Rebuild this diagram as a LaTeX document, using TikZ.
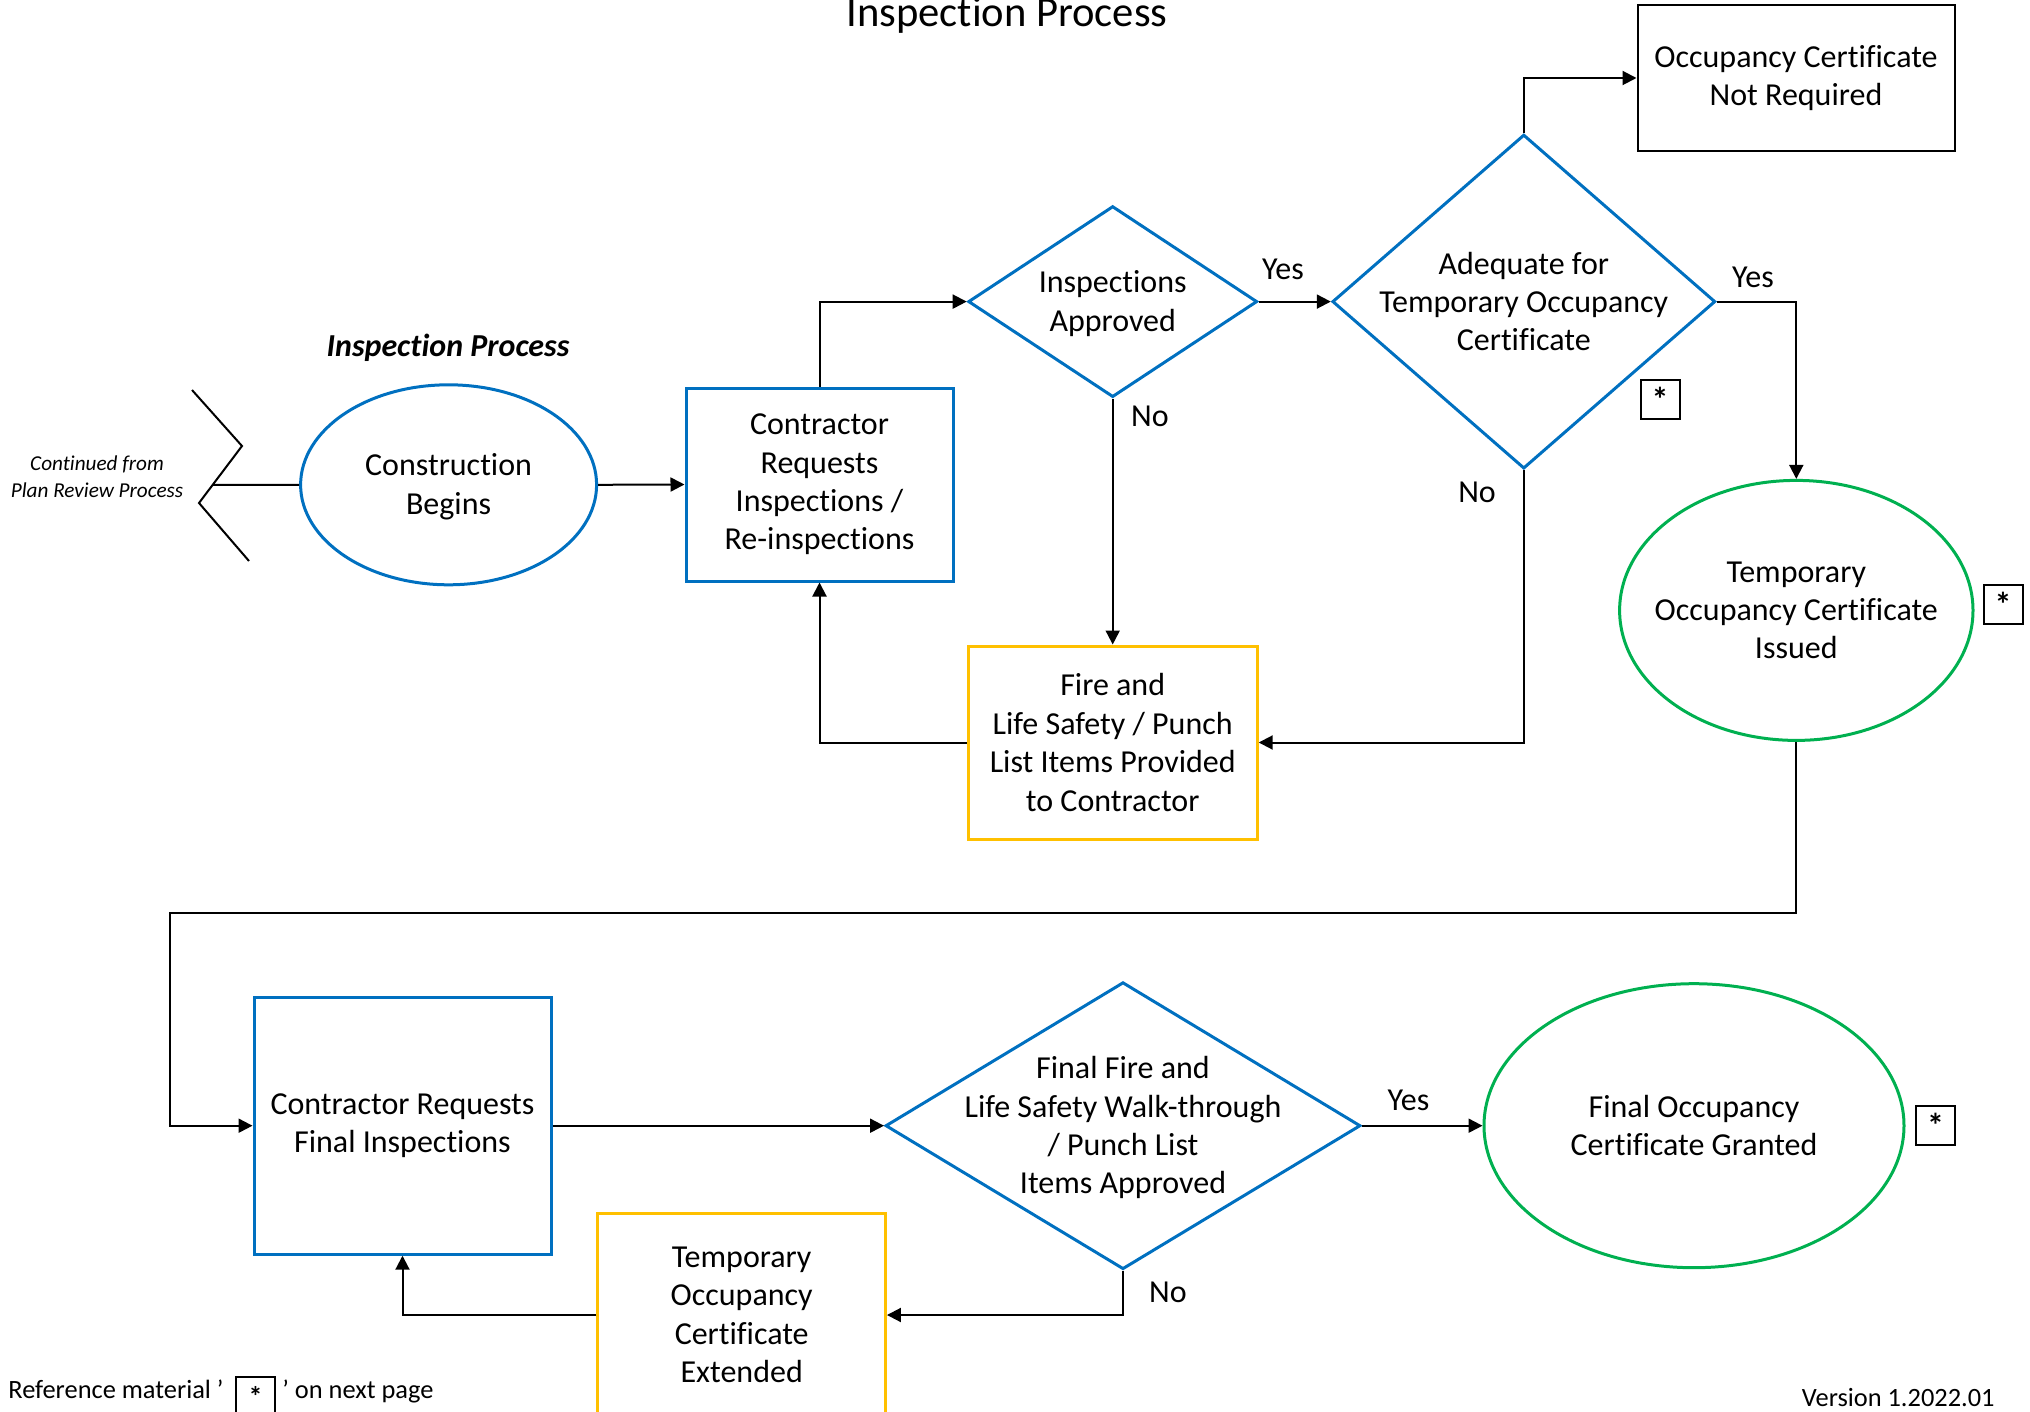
\documentclass[tikz,border=0pt]{standalone}
\usepackage{fontspec}
\setmainfont{Carlito}[Ligatures=NoCommon]
\usetikzlibrary{shapes.geometric,arrows.meta}
\definecolor{vblue}{HTML}{0070C0}
\definecolor{vgreen}{HTML}{00B050}
\definecolor{vyellow}{HTML}{FFC000}
\begin{document}
\begin{tikzpicture}[x=0.5pt,y=-0.5pt,
  txt/.style={font=\fontsize{16}{19.2}\selectfont, align=center},
  lbl/.style={font=\fontsize{16}{19.2}\selectfont},
  bluebox/.style={draw=vblue, line width=1.5pt, rectangle, inner sep=0pt, txt},
  yellowbox/.style={draw=vyellow, line width=1.5pt, rectangle, inner sep=0pt, txt},
  blackbox/.style={draw=black, line width=1pt, rectangle, inner sep=0pt, txt},
  bluedia/.style={draw=vblue, line width=1.5pt, diamond, inner sep=0pt},
  blueell/.style={draw=vblue, line width=1.5pt, ellipse, inner sep=0pt},
  greenell/.style={draw=vgreen, line width=1.5pt, ellipse, inner sep=0pt},
  starbox/.style={draw=black, line width=1pt, rectangle, inner sep=0pt, minimum size=19.5pt, font=\fontsize{17}{18}\selectfont\bfseries},
  conn/.style={draw=black, line width=1pt},
  arr/.style={conn, -{Triangle[length=7pt,width=7pt]}}
  ]
\useasboundingbox (0,0) rectangle (2030,1412);
\clip (0,0) rectangle (2030,1412);

% title
\node[anchor=base, font=\fontsize{21.3}{24}\selectfont] (title) at (1007,27) {Inspection Process};
\node[anchor=base, font=\fontsize{16}{19}\selectfont\bfseries\itshape] (sub) at (448,357) {Inspection Process};

% continued-from chevron
\node[font=\fontsize{10.6}{13.5}\selectfont\itshape, align=center] (cont) at (97,477) {Continued from\\Plan Review Process};
\coordinate (c1) at (192,390);
\coordinate (c2) at (242,446);
\coordinate (c3) at (199,503);
\coordinate (c4) at (249,561);
\coordinate (cj) at (212.6,485);
\draw[conn] (c1) -- (c2) -- (c3) -- (c4);

% nodes
\node[blueell, minimum width=148pt, minimum height=100pt,
  label={[txt, yshift=-1pt]center:{Construction\\Begins}}] (cb) at (448.6,484.8) {};
\node[bluebox, minimum width=133.5pt, minimum height=96.5pt] (cr) at (819.5,484.5) {Contractor\\Requests\\Inspections /\\Re-inspections};
\node[bluedia, minimum width=144.5pt, minimum height=95.5pt,
  label={[txt, yshift=-1pt]center:{Inspections\\Approved}}] (ia) at (1112.7,301.6) {};
\node[bluedia, minimum width=191.5pt, minimum height=167pt,
  label={[txt]center:{Adequate for\\Temporary Occupancy\\Certificate}}] (ad) at (1523.8,301.6) {};
\node[blackbox, minimum width=158.5pt, minimum height=73pt] (nr) at (1796,78) {Occupancy Certificate\\Not Required};
\node[greenell, minimum width=176.7pt, minimum height=130pt,
  label={[txt]center:{Temporary\\Occupancy Certificate\\Issued}}] (ti) at (1796.3,610.4) {};
\node[yellowbox, minimum width=144.5pt, minimum height=96.5pt] (fl) at (1112.7,742.5) {Fire and\\Life Safety / Punch\\List Items Provided\\to Contractor};

\node[bluebox, minimum width=148.5pt, minimum height=128.5pt] (cf) at (402.5,1125.7) {Contractor Requests\\Final Inspections};
\node[bluedia, minimum width=237.5pt, minimum height=143.5pt,
  label={[txt, yshift=-1pt]center:{Final Fire and\\Life Safety Walk-through\\/ Punch List\\Items Approved}}] (ff) at (1123,1125.7) {};
\node[greenell, minimum width=210pt, minimum height=142pt,
  label={[txt]center:{Final Occupancy\\Certificate Granted}}] (fo) at (1694,1125.7) {};
\node[yellowbox, minimum width=143.75pt, minimum height=102pt] (te) at (741.7,1315) {Temporary\\Occupancy\\Certificate\\Extended};

% reference star boxes
\node[starbox] (s1) at (1660,399.5) {*};
\node[starbox] (s2) at (2003,604.5) {*};
\node[starbox] (s3) at (1935.5,1125) {*};

% connectors
\draw[conn] (cj) -- (cb.west);
\draw[arr] (cb.east) -- (cr.west);
\draw[arr] (cr.north) |- (ia.west);
\draw[arr] (ia.east) -- (ad.west);
\draw[arr] (ia.south) -- (fl.north);
\draw[arr] (ad.south) |- (fl.east);
\draw[arr] (fl.west) -| (cr.south);
\draw[arr] (ad.north) |- (nr.west);
\draw[arr] (ad.east) -| (ti.north);
\coordinate (k1) at (169.6,912.7);
\draw[arr] (ti.south) |- (k1) |- (cf.west);
\draw[arr] (cf.east) -- (ff.west);
\draw[arr] (ff.east) -- (fo.west);
\draw[arr] (ff.south) |- (te.east);
\draw[arr] (te.west) -| (cf.south);

% branch labels
\node[lbl] (y1) at (1283,269) {Yes};
\node[lbl] (n1) at (1150,416) {No};
\node[lbl] (n2) at (1477,492) {No};
\node[lbl] (y2) at (1753,277) {Yes};
\node[lbl] (y3) at (1408.5,1100) {Yes};
\node[lbl] (n3) at (1168,1292) {No};

% footer
\node[anchor=base west, inner sep=0pt, font=\fontsize{13.2}{15}\selectfont] (ref1) at (8,1398) {Reference material '};
\node[starbox, minimum size=19.5pt, font=\fontsize{14}{15}\selectfont\bfseries] (s4) at (255.5,1396) {*};
\node[anchor=base west, inner sep=0pt, font=\fontsize{13.2}{15}\selectfont] (ref2) at (282,1398) {' on next page};
\node[anchor=base east, inner sep=0pt, font=\fontsize{13.2}{15}\selectfont] (ver) at (1995,1406) {Version 1.2022.01};
\end{tikzpicture}
\end{document}
